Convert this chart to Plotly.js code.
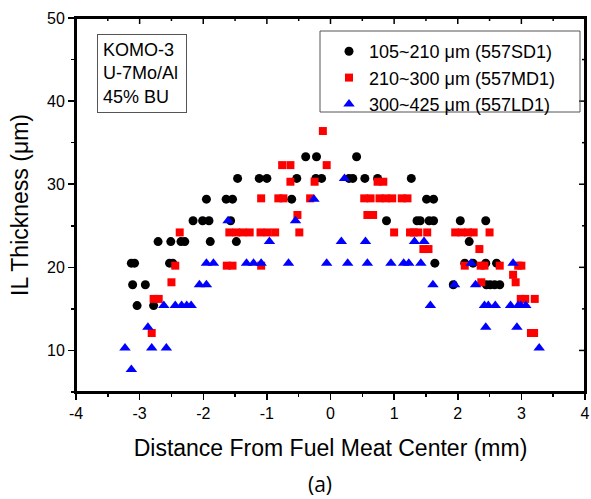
<!DOCTYPE html>
<html>
<head>
<meta charset="utf-8">
<script src="https://cdn.plot.ly/plotly-3.0.1.min.js"></script>
<style>html,body{margin:0;padding:0;background:#fff;}#chart{width:591px;height:499px;}</style>
</head>
<body>
<div id="chart"></div>
<script>
// ---- Data ----
const seriesNames = ["105~210 \u03bcm (557SD1)", "210~300 \u03bcm (557MD1)", "300~425 \u03bcm (557LD1)"];

// 105~210 um (557SD1) - black circles
const sdX = [-0.39, -0.22, 0.41,
  -1.46, -1.12, -1.00, -0.53, -0.23, -0.14, 0.29, 0.35, 0.54, 0.74, 1.27,
  -1.95, -1.64, -1.54, -0.61, 1.51, 1.62,
  -2.16, -2.01, -1.91, -1.57, 0.88, 1.36, 1.41, 1.55, 1.62, 2.04, 2.44,
  -2.71, -2.51, -2.35, -2.29, -1.89, -1.48, 2.18,
  -3.13, -3.08, -2.53, -2.48, 1.64, 2.11, 2.24, 2.44, 2.61,
  -3.11, -2.91, 1.93, 2.45, 2.51, 2.58, 2.66,
  -3.04, -2.78];
const sdY = [33.3, 33.3, 33.3,
  30.7, 30.7, 30.7, 30.7, 30.7, 30.7, 30.7, 30.7, 30.7, 30.7, 30.7,
  28.2, 28.2, 28.2, 28.2, 28.2, 28.2,
  25.6, 25.6, 25.6, 25.6, 25.6, 25.6, 25.6, 25.6, 25.6, 25.6, 25.6,
  23.1, 23.1, 23.1, 23.1, 23.1, 23.1, 23.1,
  20.5, 20.5, 20.5, 20.5, 20.5, 20.5, 20.5, 20.5, 20.5,
  17.9, 17.9, 17.9, 17.9, 17.9, 17.9, 17.9,
  15.4, 15.4];

// 210~300 um (557MD1) - red squares
const mdX = [-0.12,
  -0.76, -0.63, -0.06,
  -0.63, -0.25, 0.74, 0.83,
  -1.09, -0.82, -0.74, -0.32, 0.53, 0.63, 0.77, 0.87, 0.97, 1.12, 1.21,
  -0.52, 0.58, 0.67,
  -2.37, -1.59, -1.48, -1.38, -1.27, -1.10, -0.99, -0.87, -0.49, 1.00, 1.25, 1.31, 1.38, 1.52, 1.96, 2.06, 2.16, 2.25, 2.50,
  1.46, 1.54, 2.34,
  -2.44, -1.63, -1.54, -1.09, 2.11, 2.36, 2.42, 2.66, 2.95, 3.00,
  2.87,
  -2.50, 2.37, 2.91,
  -2.78, -2.70, 2.99, 3.06, 3.21,
  -2.81, 3.15, 3.20];
const mdY = [36.4,
  32.3, 32.3, 32.3,
  30.3, 30.3, 30.3, 30.3,
  28.3, 28.3, 28.3, 28.3, 28.3, 28.3, 28.3, 28.3, 28.3, 28.3, 28.3,
  26.3, 26.3, 26.3,
  24.2, 24.2, 24.2, 24.2, 24.2, 24.2, 24.2, 24.2, 24.2, 24.2, 24.2, 24.2, 24.2, 24.2, 24.2, 24.2, 24.2, 24.2, 24.2,
  22.2, 22.2, 22.2,
  20.2, 20.2, 20.2, 20.2, 20.2, 20.2, 20.2, 20.2, 20.2, 20.2,
  19.1,
  18.2, 18.2, 18.2,
  16.2, 16.2, 16.2, 16.2, 16.2,
  12.1, 12.1, 12.1];

// 300~425 um (557LD1) - blue triangles
const ldX = [0.22,
  -0.26,
  -1.61, -0.55,
  -0.96, 0.17, 0.55, 1.32, 1.47,
  -1.95, -1.84, -1.32, -1.21, -1.09, -0.66, -0.06, 0.27, 0.58, 0.95, 1.15, 1.23, 1.42, 2.21, 2.87,
  -2.06, -1.95, 1.61, 1.95, 2.28,
  -2.62, -2.44, -2.34, -2.26, -2.19, 1.57, 2.42, 2.48, 2.59, 2.83, 2.95, 2.99, 3.07,
  -2.87, 2.44, 2.93,
  -3.23, -2.81, -2.58, 3.28,
  -3.13];
const ldY = [30.7,
  28.2,
  25.6, 25.6,
  23.1, 23.1, 23.1, 23.1, 23.1,
  20.5, 20.5, 20.5, 20.5, 20.5, 20.5, 20.5, 20.5, 20.5, 20.5, 20.5, 20.5, 20.5, 20.5, 20.5,
  17.9, 17.9, 17.9, 17.9, 17.9,
  15.4, 15.4, 15.4, 15.4, 15.4, 15.4, 15.4, 15.4, 15.4, 15.4, 15.4, 15.4, 15.4,
  12.8, 12.8, 12.8,
  10.3, 10.3, 10.3, 10.3,
  7.7];

const xTickVals = [-4, -3, -2, -1, 0, 1, 2, 3, 4];
const xTickText = ["-4", "-3", "-2", "-1", "0", "1", "2", "3", "4"];
const yTickVals = [10, 20, 30, 40, 50];
const yTickText = ["10", "20", "30", "40", "50"];
const infoLines = ["KOMO-3", "U-7Mo/Al", "45% BU"];
const xTitle = "Distance From Fuel Meat Center (mm)";
const yTitle = "IL Thickness (\u03bcm)";
const panelLabel = "(a)";
const xRange = [-4, 4];
const yRange = [5, 50];
const xMinorStep = 0.5;
const yMinorStep = 5;

// ---- Plot ----
const FONT = "Liberation Sans, Arial, sans-serif";
const traces = [
  {x: sdX, y: sdY, name: seriesNames[0], type: "scatter", mode: "markers",
   marker: {symbol: "circle", size: 9, color: "#000000"}},
  {x: mdX, y: mdY, name: seriesNames[1], type: "scatter", mode: "markers",
   marker: {symbol: "square", size: 8, color: "#ff0000"}},
  {x: ldX, y: ldY, name: seriesNames[2], type: "scatter", mode: "markers",
   marker: {symbol: "triangle-up", size: 10, color: "#0000ff"}}
];

const axisCommon = {
  showgrid: false, zeroline: false, showline: true, mirror: true,
  linecolor: "#000", linewidth: 2,
  tickcolor: "#000", tickwidth: 1.5, ticklen: 6,
  tickfont: {family: FONT, size: 16, color: "#000"}
};

// plot area in pixels: x 76..585, y 18..392
const PL = 76, PR = 585, PT = 18, PB = 392;
const px2x = p => (p - PL) / (PR - PL);
const px2y = p => 1 - (p - PT) / (PB - PT);

// frame: top/right border lines with inward ticks (Origin style)
const frameShapes = [
  {type: "rect", xref: "paper", yref: "paper", x0: 0, x1: 1, y0: 0, y1: 1,
   line: {color: "#000", width: 2}, fillcolor: "rgba(0,0,0,0)", layer: "above"}
];
const tickLine = {color: "#000", width: 1.5};
for (let v = xRange[0]; v <= xRange[1] + 1e-9; v += xMinorStep) {
  const major = xTickVals.includes(v);
  frameShapes.push({type: "line", xref: "x", x0: v, x1: v,
    yref: "paper", ysizemode: "pixel", yanchor: 1, y0: 0, y1: major ? -6 : -3,
    line: tickLine, layer: "above"});
}
for (let v = Math.ceil(yRange[0] / yMinorStep) * yMinorStep; v <= yRange[1] + 1e-9; v += yMinorStep) {
  const major = yTickVals.includes(v);
  frameShapes.push({type: "line", yref: "y", y0: v, y1: v,
    xref: "paper", xsizemode: "pixel", xanchor: 1, x0: 0, x1: major ? -6 : -3,
    line: tickLine, layer: "above"});
}
// legend frame
frameShapes.push({type: "rect", xref: "paper", yref: "paper",
  x0: px2x(320), x1: px2x(580), y0: px2y(112), y1: px2y(31),
  line: {color: "#555", width: 1}, fillcolor: "rgba(0,0,0,0)", layer: "above"});

const layout = {
  width: 591, height: 499,
  margin: {l: PL, r: 591 - PR, t: PT, b: 499 - PB},
  paper_bgcolor: "#fff", plot_bgcolor: "#fff",
  font: {family: FONT, color: "#000"},
  showlegend: true,
  legend: {
    x: px2x(329), y: px2y(33), xanchor: "left", yanchor: "top",
    borderwidth: 0, bgcolor: "rgba(0,0,0,0)",
    font: {family: FONT, size: 18, color: "#000"}
  },
  xaxis: Object.assign({}, axisCommon, {
    range: xRange, tickmode: "array", tickvals: xTickVals, ticktext: xTickText, ticks: "outside",
    minor: {dtick: xMinorStep, ticks: "outside", ticklen: 3, tickcolor: "#000", tickwidth: 1.5},
    title: {text: xTitle, font: {family: FONT, size: 23, color: "#000"}, standoff: 19}
  }),
  yaxis: Object.assign({}, axisCommon, {
    range: yRange, tickmode: "array", tickvals: yTickVals, ticktext: yTickText, ticks: "outside",
    minor: {dtick: yMinorStep, ticks: "outside", ticklen: 3, tickcolor: "#000", tickwidth: 1.5},
    title: {text: yTitle, font: {family: FONT, size: 23, color: "#000"}, standoff: 12}
  }),
  shapes: frameShapes,
  annotations: [
    {xref: "paper", yref: "paper", x: px2x(97), y: px2y(34), xanchor: "left", yanchor: "top",
     text: infoLines.join("<br>"), align: "left", showarrow: false, width: 78,
     bordercolor: "#555", borderwidth: 1, borderpad: 5, bgcolor: "#fff",
     font: {family: FONT, size: 18, color: "#000"}},
    {xref: "paper", yref: "paper", x: 0.48, y: px2y(484), xanchor: "center", yanchor: "middle",
     text: panelLabel, showarrow: false,
     font: {family: "Open Sans, sans-serif", size: 21, color: "#000"}}
  ]
};

Plotly.newPlot("chart", traces, layout, {displayModeBar: false, staticPlot: true});
</script>
</body>
</html>
